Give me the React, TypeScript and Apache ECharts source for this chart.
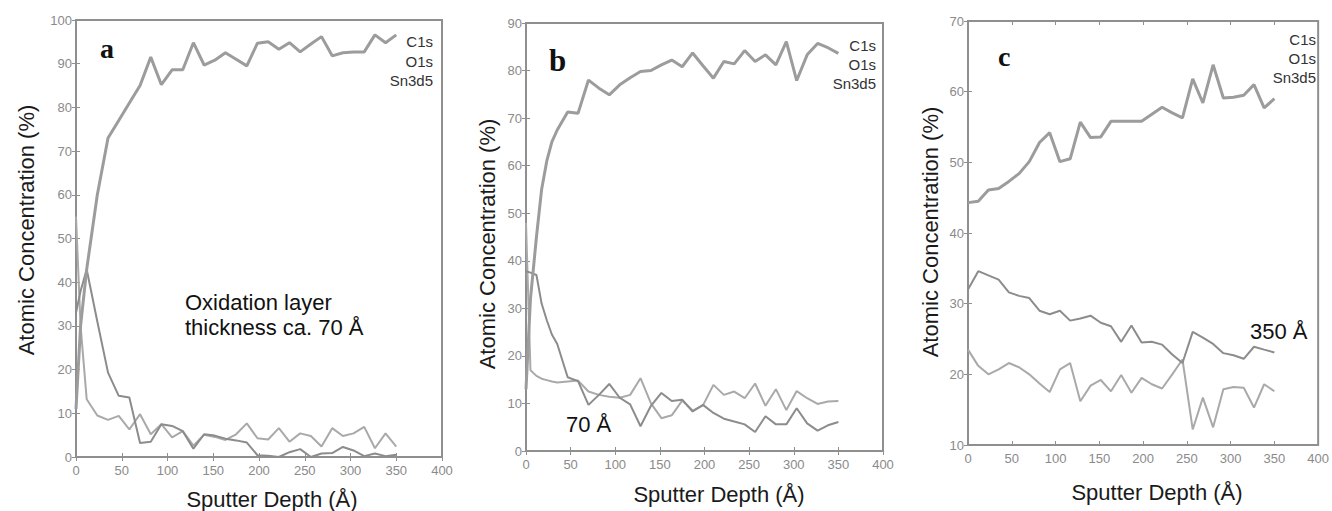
import React, { useEffect, useRef } from "react";
import * as echarts from "echarts";

// ---------- data ----------
const depthA = [0, 5, 11.7, 23.3, 35, 46.7, 58.3, 70, 81.7, 93.3, 105, 116.7, 128.3, 140, 151.7, 163.3, 175, 186.7, 198.3, 210, 221.7, 233.3, 245, 256.7, 268.3, 280, 291.7, 303.3, 315, 326.7, 338.3, 350];
const snA = [11, 30, 43, 60, 73, 77, 81, 85, 91.5, 85.2, 88.6, 88.6, 94.8, 89.7, 90.8, 92.5, 91.0, 89.5, 94.7, 95.0, 93.3, 94.8, 92.7, 94.5, 96.2, 91.8, 92.5, 92.7, 92.7, 96.6, 94.8, 96.6];
const o1sA = [33, 38, 42.9, 31, 19.3, 14.0, 13.6, 3.2, 3.5, 7.5, 7.1, 5.9, 1.9, 5.2, 4.9, 4.2, 3.8, 3.3, 0.4, 0.3, 0, 1.1, 1.8, 0, 0.8, 0.9, 2.3, 1.5, 0.2, 0.8, 0.2, 0.5];
const c1sA = [55, 30, 13.2, 9.5, 8.5, 9.4, 6.3, 9.8, 5.2, 7.5, 4.5, 5.9, 2.6, 5.1, 4.6, 3.9, 5.2, 7.7, 4.3, 4.0, 6.6, 3.5, 5.4, 4.8, 2.4, 6.6, 4.8, 5.4, 6.9, 2.0, 5.4, 2.4];

const depthB = [0, 5, 11.7, 17.5, 23.3, 29, 35, 46.7, 58.3, 70, 81.7, 93.3, 105, 116.7, 128.3, 140, 151.7, 163.3, 175, 186.7, 198.3, 210, 221.7, 233.3, 245, 256.7, 268.3, 280, 291.7, 303.3, 315, 326.7, 338.3, 350];
const snB = [13, 32, 45, 55, 61, 65, 67.5, 71.3, 71.0, 78.0, 76.3, 74.9, 77.0, 78.5, 79.8, 80.0, 81.2, 82.2, 80.8, 83.7, 81.0, 78.4, 81.9, 81.4, 84.2, 81.9, 83.3, 81.2, 86.1, 77.9, 83.3, 85.7, 84.8, 83.6];
const o1sB = [37.8, 37.5, 37.0, 31, 27.5, 24.5, 22.5, 15.5, 14.7, 9.7, 11.8, 14.1, 11.2, 9.8, 5.2, 9.5, 12.2, 10.5, 10.8, 8.3, 9.7, 8.0, 6.8, 6.2, 5.6, 4.0, 7.3, 5.6, 5.6, 9.0, 5.8, 4.3, 5.4, 6.1];
const c1sB = [48, 17, 15.8, 15.2, 14.9, 14.6, 14.4, 14.6, 14.8, 12.5, 11.8, 11.4, 11.2, 11.8, 15.3, 10.0, 6.9, 7.5, 10.6, 8.5, 9.6, 13.9, 11.8, 12.5, 11.1, 14.2, 9.5, 13.0, 8.6, 12.6, 11.1, 9.9, 10.4, 10.5];

const depthC = [0, 11.7, 23.3, 35, 46.7, 58.3, 70, 81.7, 93.3, 105, 116.7, 128.3, 140, 151.7, 163.3, 175, 186.7, 198.3, 210, 221.7, 233.3, 245, 256.7, 268.3, 280, 291.7, 303.3, 315, 326.7, 338.3, 350];
const snC = [44.3, 44.5, 46.1, 46.3, 47.3, 48.4, 50.1, 52.8, 54.2, 50.1, 50.5, 55.7, 53.5, 53.6, 55.8, 55.8, 55.8, 55.8, 56.8, 57.8, 57.0, 56.3, 61.8, 58.4, 63.8, 59.1, 59.2, 59.5, 61.0, 57.7, 59.0];
const o1sC = [32.0, 34.6, 34.0, 33.4, 31.6, 31.1, 30.8, 29.0, 28.5, 29.0, 27.6, 27.9, 28.3, 27.3, 26.8, 24.6, 26.9, 24.5, 24.6, 24.2, 22.8, 21.6, 26.0, 25.2, 24.3, 23.0, 22.7, 22.2, 23.9, 23.5, 23.1];
const c1sC = [23.5, 21.2, 20.0, 20.7, 21.6, 21.0, 20.0, 18.7, 17.5, 20.7, 21.6, 16.2, 18.4, 19.2, 17.6, 19.9, 17.4, 19.5, 18.6, 18.0, 20.0, 22.1, 12.2, 16.7, 12.5, 17.9, 18.2, 18.1, 15.3, 18.6, 17.6];

const legendNames = ["C1s", "O1s", "Sn3d5"];
const xTitle = "Sputter Depth (Å)";
const yTitle = "Atomic Concentration (%)";

const panels = [
  { letter: "a", grid: { left: 76, top: 20, width: 366, height: 437 }, yMin: 0, yMax: 100, depth: depthA, c1s: c1sA, o1s: o1sA, sn: snA },
  { letter: "b", grid: { left: 526, top: 23, width: 357, height: 428 }, yMin: 0, yMax: 90, depth: depthB, c1s: c1sB, o1s: o1sB, sn: snB },
  { letter: "c", grid: { left: 968, top: 21, width: 355, height: 424 }, yMin: 10, yMax: 70, depth: depthC, c1s: c1sC, o1s: o1sC, sn: snC },
];

const AXIS = "#8f8f8f";
const LABEL = "#8a8a8a";
const SANS = "'Liberation Sans', Arial, sans-serif";

export default function App() {
  const ref = useRef<HTMLDivElement>(null);
  useEffect(() => {
    if (!ref.current) return;
    const chart = echarts.init(ref.current, undefined, { renderer: "svg" });
    const grid: any[] = [];
    const xAxis: any[] = [];
    const yAxis: any[] = [];
    const series: any[] = [];
    const tick = { show: true, inside: true, length: 4, lineStyle: { color: AXIS, width: 1 } };
    panels.forEach((p, i) => {
      grid.push({ ...p.grid, show: true, borderColor: AXIS, borderWidth: 2, backgroundColor: "transparent" });
      xAxis.push({
        gridIndex: i, type: "value", min: 0, max: 400, interval: 50, position: "bottom",
        axisLine: { show: false }, axisTick: tick, splitLine: { show: false },
        axisLabel: { color: LABEL, fontSize: 13, margin: 7, fontFamily: SANS },
      });
      xAxis.push({
        gridIndex: i, type: "value", min: 0, max: 400, interval: 50, position: "top",
        axisLine: { show: false }, axisTick: tick, splitLine: { show: false }, axisLabel: { show: false },
      });
      yAxis.push({
        gridIndex: i, type: "value", min: p.yMin, max: p.yMax, interval: 10, position: "left",
        axisLine: { show: false }, axisTick: tick, splitLine: { show: false },
        axisLabel: { color: LABEL, fontSize: 13, margin: 4, fontFamily: SANS },
      });
      yAxis.push({
        gridIndex: i, type: "value", min: p.yMin, max: p.yMax, interval: 10, position: "right",
        axisLine: { show: false }, axisTick: tick, splitLine: { show: false }, axisLabel: { show: false },
      });
      const mk = (name: string, vals: number[], color: string, width: number) => ({
        name, type: "line", xAxisIndex: 2 * i, yAxisIndex: 2 * i,
        data: p.depth.map((d, j) => [d, vals[j]]),
        symbol: "none", showSymbol: false, clip: true,
        lineStyle: { color, width },
      });
      series.push(mk("C1s", p.c1s, "#a9a9a9", 2));
      series.push(mk("O1s", p.o1s, "#8c8c8c", 2));
      series.push(mk("Sn3d5", p.sn, "#9c9c9c", 3));
    });

    const graphic: any[] = [];
    const legendPos = [
      { right: 433, ys: [41, 61, 80] },
      { right: 876, ys: [45, 64, 83] },
      { right: 1316, ys: [39, 58, 77] },
    ];
    legendPos.forEach((lp) => {
      legendNames.forEach((n, k) => {
        graphic.push({ type: "text", x: lp.right, y: lp.ys[k], style: { text: n, fill: "#333", font: `15px ${SANS}`, align: "right", verticalAlign: "middle" } });
      });
    });
    const letters = [
      { t: "a", x: 100, y: 48, size: 28 },
      { t: "b", x: 549, y: 60, size: 31 },
      { t: "c", x: 998, y: 56, size: 28 },
    ];
    letters.forEach((l) => {
      graphic.push({ type: "text", x: l.x, y: l.y, style: { text: l.t, fill: "#111", font: `bold ${l.size}px 'Liberation Serif', 'DejaVu Serif', serif`, align: "left", verticalAlign: "middle" } });
    });
    const xt = [
      { x: 272, y: 499 },
      { x: 719, y: 494 },
      { x: 1157, y: 492 },
    ];
    xt.forEach((t) => {
      graphic.push({ type: "text", x: t.x, y: t.y, style: { text: xTitle, fill: "#1a1a1a", font: `22px ${SANS}`, align: "center", verticalAlign: "middle" } });
    });
    const yt = [
      { x: 26, y: 230 },
      { x: 487, y: 244 },
      { x: 930, y: 232 },
    ];
    yt.forEach((t) => {
      graphic.push({ type: "text", x: t.x, y: t.y, rotation: Math.PI / 2, style: { text: yTitle, fill: "#1a1a1a", font: `22px ${SANS}`, align: "center", verticalAlign: "middle" } });
    });
    graphic.push({ type: "text", x: 185, y: 302, style: { text: "Oxidation layer", fill: "#111", font: `22px ${SANS}`, align: "left", verticalAlign: "middle" } });
    graphic.push({ type: "text", x: 185, y: 327, style: { text: "thickness ca. 70 Å", fill: "#111", font: `22px ${SANS}`, align: "left", verticalAlign: "middle" } });
    graphic.push({ type: "text", x: 566, y: 424, style: { text: "70 Å", fill: "#111", font: `22px ${SANS}`, align: "left", verticalAlign: "middle" } });
    graphic.push({ type: "text", x: 1250, y: 331, style: { text: "350 Å", fill: "#111", font: `22px ${SANS}`, align: "left", verticalAlign: "middle" } });

    chart.setOption({
      animation: false,
      backgroundColor: "#ffffff",
      grid, xAxis, yAxis, series, graphic,
    });
    return () => chart.dispose();
  }, []);
  return <div ref={ref} style={{ position: "fixed", left: 0, top: 0, width: 1332, height: 511 }} />;
}
